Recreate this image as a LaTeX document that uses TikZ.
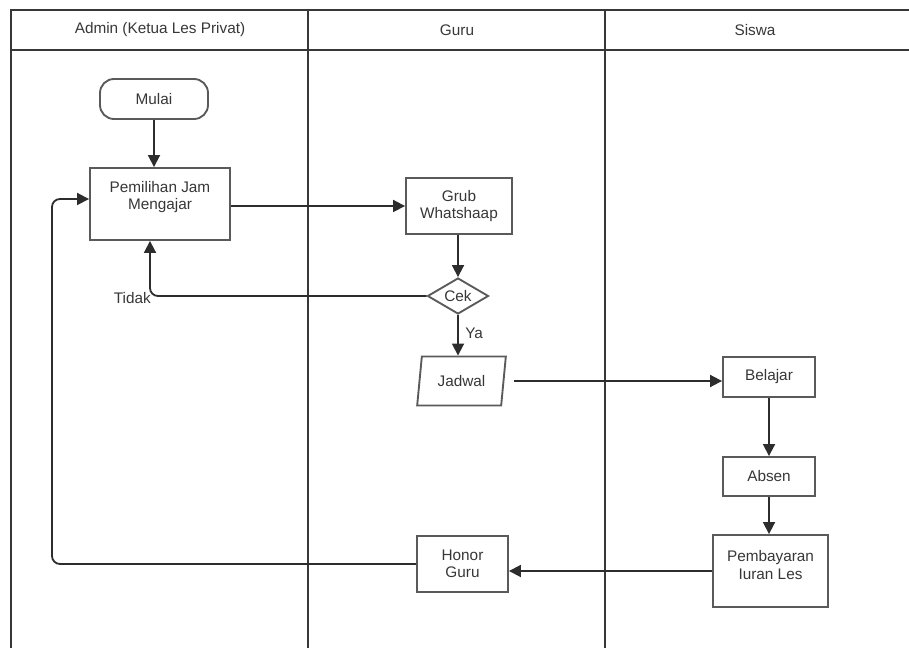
\documentclass[tikz,border=0pt]{standalone}
\usepackage{fontspec}
\setmainfont{Liberation Sans}
\usetikzlibrary{arrows.meta,shapes.geometric,calc}
\definecolor{txtc}{RGB}{55,55,55}
\definecolor{boxc}{RGB}{90,90,90}
\definecolor{lanec}{RGB}{55,55,55}
\definecolor{connc}{RGB}{45,45,45}
\tikzset{
  lane/.style={draw=lanec, line width=1.3pt},
  txt/.style={text=txtc, font=\fontsize{11.5}{12.8}\selectfont, align=center, inner sep=0pt},
  box/.style={draw=boxc, line width=1.4pt, fill=white, rectangle, inner sep=0pt, txt},
  conn/.style={draw=connc, line width=1.35pt, -{Triangle[length=9pt,width=9pt]}},
}
\begin{document}
\begin{tikzpicture}[x=0.75pt,y=-0.75pt]
\useasboundingbox (0,0) rectangle (909,648);
% swimlanes
\draw[lane] (11,648) -- (11,10) -- (909,10);
\draw[lane] (11,50) -- (909,50);
\draw[lane] (308,10) -- (308,648);
\draw[lane] (605,10) -- (605,648);
\node[txt] (h1) at (160,30) {Admin (Ketua Les Privat)};
\node[txt] (h2) at (457,30) {Guru};
\node[txt] (h3) at (755,30) {Siswa};
% nodes
\node[box, rounded corners=10.5pt, minimum width=81pt, minimum height=30pt] (mulai) at (154,99) {Mulai};
\node[box, minimum width=105pt, minimum height=54pt] (pem) at (160,204) {};
\node[txt] (pemt) at (160,197) {Pemilihan Jam\\Mengajar};
\node[box, minimum width=79.5pt, minimum height=42pt] (grub) at (459,206) {Grub\\Whatshaap};
\node[box, shape=diamond, aspect=1.7, minimum width=45.75pt, minimum height=27pt] (cek) at (458,296) {Cek};
\node[box, shape=trapezium, trapezium left angle=76, trapezium right angle=104, trapezium stretches=true, minimum width=66.75pt, minimum height=36.75pt] (jad) at (461.5,381) {Jadwal};
\node[box, minimum width=69pt, minimum height=30pt] (bel) at (769,377) {Belajar};
\node[box, minimum width=69pt, minimum height=29.25pt] (abs) at (769,476.5) {Absen};
\node[box, minimum width=86.25pt, minimum height=54pt] (pay) at (770.5,571) {};
\node[txt] (payt) at (770.5,565) {Pembayaran\\Iuran Les};
\node[box, minimum width=68.25pt, minimum height=42pt] (hon) at (462.5,564) {Honor\\Guru};
% labels
\node[txt, anchor=east] (tidak) at (151,298) {Tidak};
\node[txt, anchor=west] (ya) at (465,333) {Ya};
% connectors
\coordinate (lp) at (52,564);
\coordinate (pemin) at ($(pem.west)+(0,-5)$);
\coordinate (tidakup) at ($(pem.south)+(-10,0)$);
\draw[conn] (mulai.south) -- (mulai.south |- pem.north);
\draw[conn] (pem.east |- grub.west) -- (grub.west);
\draw[conn] (cek.north |- grub.south) -- (cek.north);
\draw[conn, rounded corners=6pt] (cek.west) -| (tidakup);
\draw[conn] (cek.south) -- (cek.south |- jad.north);
\draw[conn, shorten <=7pt] (jad.east) -- (jad.east -| bel.west);
\draw[conn] (bel.south) -- (bel.south |- abs.north);
\draw[conn] (abs.south) -- (abs.south |- pay.north);
\draw[conn] (pay.west) -- (pay.west -| hon.east);
\draw[conn, rounded corners=6pt] (hon.west) -- (lp) -- (lp |- pemin) -- (pemin);
\end{tikzpicture}
\end{document}
